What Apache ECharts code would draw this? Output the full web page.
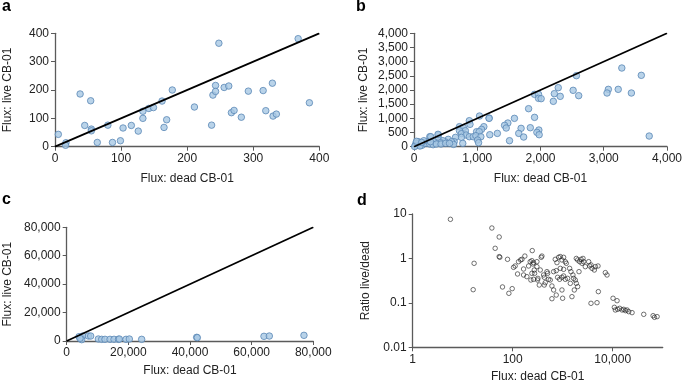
<!DOCTYPE html>
<html><head><meta charset="utf-8">
<script src="https://cdn.jsdelivr.net/npm/echarts@6/dist/echarts.min.js"></script>
<style>html,body{margin:0;padding:0;background:#fff}#c{width:685px;height:384px}</style>
</head><body><div id="c"></div>
<script>
// Panel a
const aDead = [5,16.6,16,38,54,45,55,55,64,80,87,99,103,115.5,126,133,133,142,149,162,165,169,177.5,211,237,239,243,243,248,256,263,267,271,282,292.6,315,319,329,330,335,368,385];
const aLive = [43.5,14,5,186,162,75,62,56,15,76,15,21,66,75,55,125,100,135,138,161,68,95,200,140,76,182,216,195,365,209,214,120,128,104,196,198,127,224,108,115,381,155];
// Panel b
const bDead = [3286,2568,3594,2281,2516,3073,3229,3052,3437,2219,2312,2604,1906,1969,1969,2010,2203,1812,1906,1588,1187,1036,1839,1693,1974,1943,1979,1484,1432,1458,1656,1734,1510,1318,1198,1104,1068,3719,875,885,719,781,812,719,750,823,875,937,990,1031,979,1057,1005,1021,750,771,656,635,542,490,385,250,385,458,594,625,417,344,302,208,146,73,31,21,52,94,125,187,250,302,354,427,500,562,260,156,94,10,40,120,380,265,1188];
const bLive = [2776,2505,2517,2082,1988,2023,2023,1894,1894,1870,1776,1800,1847,1847,1705,1694,1600,1341,1035,1000,1011,1082,670,647,588,506,423,835,753,659,470,341,212,470,423,706,612,376,917,788,706,670,565,565,459,412,353,353,529,529,388,353,235,141,329,118,329,176,259,176,412,353,282,212,176,82,141,141,212,176,118,176,118,47,47,47,47,118,94,71,94,94,118,118,176,212,24,5,190,150,437,353,1000];
// Panel c
const cDead = [4000,4650,5190,4860,4320,7030,7780,10270,11350,12430,14050,15350,16760,17080,19240,20320,24320,42160,42370,64000,65730,76970];
const cLive = [3050,2350,3500,940,1880,3500,3500,1400,1170,1170,1170,1170,1170,1400,1170,1400,1170,2580,2350,3280,3500,3990];
// Panel d
const dDead = [5.68,38.3,53.7,44.6,53.7,55.3,16.9,16.2,62.5,83.8,78.8,104,112,125,131,144,153,165,165,175,208,231,246,242,261,270,274,305,319,97.7,384,372,224,254,305,242,314,261,415,499,522,448,428,609,658,710,767,828,895,966,1043,1127,743,791,867,966,1043,1127,1254,895,1043,1180,966,743,609,996,1531,1376,1463,1603,1655,1786,1871,1990,1706,1871,1990,2183,2322,2546,2624,2432,2833,3304,3460,3855,4296,4498,5085,3681,5164,3681,4853,7129,7697,10160,12220,10790,11300,12590,13800,15380,16600,17950,19360,20930,24380,41780,64270,68390,77270,2118,428,484,356,192,340,564,1419,658];
const dRatio = [7.59,4.84,3.04,1.69,1.10,1.06,0.776,0.198,0.228,0.164,0.955,0.630,0.676,0.447,0.845,0.923,0.955,0.578,0.424,1.13,0.676,0.327,1.50,0.891,0.804,0.549,0.462,0.845,0.356,0.209,1.13,1.06,0.845,0.750,0.653,0.462,0.327,0.339,0.424,0.462,0.339,0.285,0.252,0.240,0.504,0.955,0.804,1.06,1.10,0.923,1.06,0.845,0.531,0.376,0.339,0.376,0.403,0.339,0.356,0.598,0.569,0.776,0.195,0.150,0.124,0.127,0.138,0.598,0.504,0.424,0.356,0.327,0.275,0.232,0.195,1.00,0.923,0.845,0.955,1.00,0.845,0.776,0.653,0.845,0.676,0.598,0.549,0.653,0.676,0.714,0.179,0.0977,0.101,0.479,0.424,0.127,0.112,0.0794,0.0692,0.0716,0.0754,0.0692,0.0716,0.0668,0.0692,0.0634,0.0603,0.0552,0.0515,0.0473,0.0490,0.504,0.376,0.504,0.549,0.389,0.252,0.327,0.275,0.195];
// Identity lines
const lineA = [[0,0],[400,400]];
const lineB = [[0,0],[4000,4000]];
const lineC = [[0,0],[80000,80000]];
// Ticks
const ticksD_x = [1,100,10000];
const ticksD_y = [0.01,0.1,1,10];

const zip = (x,y) => x.map((v,i)=>[v,y[i]]);
const FONT = '"Liberation Sans", Arial, Helvetica, sans-serif';
const fmt = v => Number(v).toLocaleString('en-US');
function ax(extra){
  return Object.assign({
    nameLocation:'middle',
    axisLine:{show:true,onZero:false,lineStyle:{color:'#5a5a5a',width:1.3}},
    axisTick:{show:true,inside:false,length:4,lineStyle:{color:'#5a5a5a',width:1}},
    splitLine:{show:false},
    axisLabel:{color:'#222',fontSize:12,fontFamily:FONT,margin:6,formatter:fmt,showMinLabel:true,showMaxLabel:true},
    nameTextStyle:{color:'#222',fontSize:12,fontFamily:FONT}
  }, extra);
}
const blue = {color:'#a8c8e4',borderColor:'#5a87b5',borderWidth:1};
const open = {color:'rgba(255,255,255,0)',borderColor:'#222',borderWidth:0.8};
const chart = echarts.init(document.getElementById('c'),null,{renderer:'canvas'});
chart.setOption({
  animation:false,
  backgroundColor:'#fff',
  graphic:[
    {type:'text',left:2,top:-1,style:{text:'a',font:'bold 16px '+FONT,fill:'#000'}},
    {type:'text',left:356,top:-1,style:{text:'b',font:'bold 16px '+FONT,fill:'#000'}},
    {type:'text',left:2,top:192,style:{text:'c',font:'bold 16px '+FONT,fill:'#000'}},
    {type:'text',left:357,top:193,style:{text:'d',font:'bold 16px '+FONT,fill:'#000'}}
  ],
  grid:[
    {left:55,top:33.3,width:264.3,height:113.4},
    {left:414,top:33.3,width:256,height:113.4},
    {left:66.7,top:227.3,width:246.6,height:113.7},
    {left:412.7,top:214,width:250,height:133.3}
  ],
  xAxis:[
    ax({gridIndex:0,type:'value',min:0,max:400,interval:100,name:'Flux: dead CB-01',nameGap:26}),
    ax({gridIndex:1,type:'value',min:0,max:4000,interval:1000,name:'Flux: dead CB-01',nameGap:26}),
    ax({gridIndex:2,type:'value',min:0,max:80000,interval:20000,name:'Flux: dead CB-01',nameGap:24}),
    ax({gridIndex:3,type:'log',logBase:10,min:1,max:100000,name:'Flux: dead CB-01',nameGap:23,
        axisTick:{show:true,length:4,customValues:ticksD_x,lineStyle:{color:'#5a5a5a'}},
        axisLabel:{color:'#222',fontSize:12,fontFamily:FONT,margin:6,customValues:ticksD_x,formatter:fmt}})
  ],
  yAxis:[
    ax({gridIndex:0,type:'value',min:0,max:400,interval:100,name:'Flux: live CB-01',nameGap:41}),
    ax({gridIndex:1,type:'value',min:0,max:4000,interval:500,name:'Flux: live CB-01',nameGap:44}),
    ax({gridIndex:2,type:'value',min:0,max:80000,interval:20000,name:'Flux: live CB-01',nameGap:53}),
    ax({gridIndex:3,type:'log',logBase:10,min:0.01,max:10,name:'Ratio live/dead',nameGap:41,
        axisTick:{show:true,length:4,customValues:ticksD_y,lineStyle:{color:'#5a5a5a'}},
        axisLabel:{color:'#222',fontSize:12,fontFamily:FONT,margin:6,customValues:ticksD_y,
          formatter:v=>({0.01:'0.01',0.1:'0.1',1:'1',10:'10'})[Number(v).toPrecision(1)*1] || String(v)}})
  ],
  series:[
    {type:'scatter',xAxisIndex:0,yAxisIndex:0,data:zip(aDead,aLive),symbolSize:6.5,itemStyle:blue,z:2},
    {type:'line',xAxisIndex:0,yAxisIndex:0,data:lineA,symbol:'none',lineStyle:{color:'#000',width:1.8},z:3},
    {type:'scatter',xAxisIndex:1,yAxisIndex:1,data:zip(bDead,bLive),symbolSize:6.5,itemStyle:blue,z:2},
    {type:'line',xAxisIndex:1,yAxisIndex:1,data:lineB,symbol:'none',lineStyle:{color:'#000',width:1.8},z:3},
    {type:'scatter',xAxisIndex:2,yAxisIndex:2,data:zip(cDead,cLive),symbolSize:6.5,itemStyle:blue,z:2},
    {type:'line',xAxisIndex:2,yAxisIndex:2,data:lineC,symbol:'none',lineStyle:{color:'#000',width:1.8},z:3},
    {type:'scatter',xAxisIndex:3,yAxisIndex:3,data:zip(dDead,dRatio),symbolSize:4.5,itemStyle:open}
  ]
});
</script></body></html>
